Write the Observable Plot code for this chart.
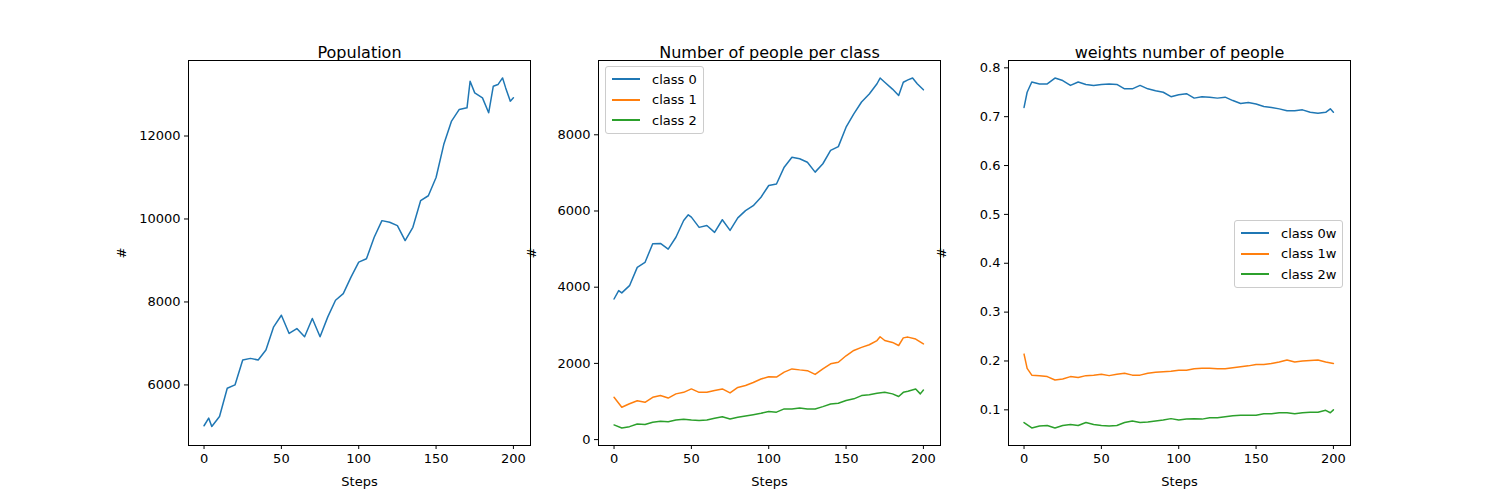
<!DOCTYPE html>
<html>
<head>
<meta charset="utf-8">
<script src="https://cdn.jsdelivr.net/npm/d3@7"></script>
<script src="https://cdn.jsdelivr.net/npm/@observablehq/plot@0.6"></script>
<style>
  body { margin: 0; background: #fff; font-family: "DejaVu Sans", sans-serif; }
  #fig { position: relative; width: 1500px; height: 500px; }
  .panel { position: absolute; }
  .legend { position: absolute; background: rgba(255,255,255,0.8); border: 1px solid #ccc; border-radius: 3px;
            font-size: 13px; padding: 2px 6px; }
  .legend div { display: flex; align-items: center; height: 20.5px; }
  .legend span.sw { display: inline-block; width: 28px; height: 2px; margin-right: 12px; }
</style>
</head>
<body>
<div id="fig"></div>
<script>
// Data: [step, value]
var population = [[0,5016],[3,5200],[5,5000],[10,5240],[15,5920],[20,6000],[25,6600],[30,6640],[35,6600],[40,6840],
  [45,7400],[50,7680],[55,7240],[60,7360],[65,7160],[70,7600],[75,7160],[80,7640],[85,8040],[90,8200],[95,8600],
  [100,8960],[105,9040],[110,9560],[115,9960],[120,9920],[125,9840],[130,9480],[135,9800],[140,10440],[145,10560],
  [150,11000],[155,11800],[160,12360],[165,12640],[170,12680],[172,13320],[175,13040],[180,12920],[184,12560],
  [187,13200],[190,13240],[193,13400],[195,13160],[198,12840],[200,12920]];

var class0 = [[0,3690],[3,3910],[5,3850],[10,4040],[15,4520],[20,4650],[25,5140],[30,5150],[35,5000],[40,5310],
  [45,5750],[48,5900],[50,5840],[55,5570],[60,5620],[65,5440],[70,5770],[75,5490],[80,5820],[85,6010],[90,6140],
  [95,6360],[100,6670],[105,6710],[110,7150],[115,7410],[120,7370],[125,7280],[130,7020],[135,7240],[140,7590],
  [145,7690],[150,8200],[155,8550],[160,8860],[165,9070],[170,9340],[172,9490],[175,9380],[180,9200],[184,9030],
  [187,9380],[190,9440],[193,9490],[196,9340],[200,9180]];
var class1 = [[0,1110],[5,850],[10,940],[15,1020],[20,980],[25,1110],[30,1155],[35,1090],[40,1200],[45,1240],
  [50,1330],[55,1240],[60,1240],[65,1290],[70,1330],[75,1225],[80,1370],[85,1420],[90,1500],[95,1590],[100,1650],
  [105,1640],[110,1770],[115,1855],[120,1830],[125,1810],[130,1710],[135,1855],[140,1990],[145,2030],[150,2200],
  [155,2340],[160,2420],[165,2490],[170,2600],[172,2700],[175,2600],[180,2550],[184,2470],[187,2670],[190,2690],
  [195,2640],[200,2510]];
var class2 = [[0,385],[5,305],[10,340],[15,410],[20,395],[25,455],[30,480],[35,470],[40,515],[45,535],[50,515],
  [55,500],[60,515],[65,560],[70,600],[75,540],[80,585],[85,620],[90,655],[95,690],[100,735],[105,720],[110,805],
  [115,805],[120,830],[125,805],[130,805],[135,865],[140,935],[145,955],[150,1025],[155,1070],[160,1155],[165,1180],
  [170,1215],[175,1240],[180,1200],[184,1130],[187,1240],[190,1270],[195,1330],[198,1200],[200,1300]];

var class0w = [[0,0.719],[2,0.75],[5,0.771],[10,0.767],[15,0.767],[20,0.779],[25,0.774],[30,0.764],[35,0.771],
  [40,0.766],[45,0.764],[50,0.766],[55,0.767],[60,0.766],[65,0.757],[70,0.757],[75,0.764],[80,0.757],[85,0.753],
  [90,0.75],[95,0.741],[100,0.745],[105,0.747],[110,0.738],[115,0.741],[120,0.74],[125,0.738],[130,0.74],[135,0.733],
  [140,0.727],[145,0.729],[150,0.726],[155,0.721],[160,0.719],[165,0.716],[170,0.712],[175,0.712],[180,0.714],
  [185,0.709],[190,0.707],[195,0.709],[198,0.716],[200,0.709]];
var class1w = [[0,0.214],[2,0.185],[5,0.171],[10,0.17],[15,0.168],[20,0.161],[25,0.163],[30,0.168],[35,0.166],
  [40,0.17],[45,0.171],[50,0.173],[55,0.17],[60,0.173],[65,0.175],[70,0.171],[75,0.171],[80,0.175],[85,0.177],
  [90,0.178],[95,0.179],[100,0.181],[105,0.181],[110,0.184],[115,0.185],[120,0.185],[125,0.184],[130,0.184],
  [135,0.186],[140,0.188],[145,0.19],[150,0.193],[155,0.193],[160,0.195],[165,0.198],[170,0.202],[175,0.198],
  [180,0.2],[185,0.201],[190,0.202],[195,0.198],[200,0.195]];
var class2w = [[0,0.074],[5,0.063],[10,0.067],[15,0.068],[20,0.063],[25,0.068],[30,0.07],[35,0.068],[40,0.074],
  [45,0.07],[50,0.068],[55,0.067],[60,0.068],[65,0.074],[70,0.077],[75,0.074],[80,0.075],[85,0.077],[90,0.079],
  [95,0.082],[100,0.079],[105,0.081],[110,0.082],[115,0.081],[120,0.084],[125,0.084],[130,0.086],[135,0.088],
  [140,0.089],[145,0.089],[150,0.089],[155,0.092],[160,0.092],[165,0.094],[170,0.094],[175,0.092],[180,0.094],
  [185,0.095],[190,0.095],[195,0.099],[198,0.094],[200,0.1]];

var colors = ["#1f77b4", "#ff7f0e", "#2ca02c"];
var fig = document.getElementById("fig");

// frame box: left, top, width 342, height 385
function makePanel(left, title, series, yDomain, yTicks, yFormat) {
  var mL = 80, mT = 40, mR = 10, mB = 50;
  var marks = [Plot.frame({stroke: "black"})];
  series.forEach(function(s, i) {
    marks.push(Plot.line(s, {x: "0", y: "1", stroke: colors[i], strokeWidth: 1.5}));
  });
  marks.push(Plot.text([title], {frameAnchor: "top", dy: -14, fontSize: 16, fill: "black"}));
  var plot = Plot.plot({
    width: 342 + mL + mR, height: 385 + mT + mB,
    marginLeft: mL, marginTop: mT, marginRight: mR, marginBottom: mB,
    style: {fontFamily: "DejaVu Sans", fontSize: "13px", color: "black", overflow: "visible"},
    x: {domain: [-10.05, 211.05], ticks: [0, 50, 100, 150, 200], tickSize: 4, tickPadding: 4, label: "Steps",
        labelAnchor: "center", labelArrow: "none", labelOffset: 40},
    y: {domain: yDomain, ticks: yTicks, tickFormat: yFormat, tickSize: 4, tickPadding: 4, label: "#",
        labelAnchor: "center", labelArrow: "none", labelOffset: 72},
    marks: marks
  });
  plot.classList.add("panel");
  plot.style.left = (left - mL) + "px";
  plot.style.top = (60 - mT) + "px";
  fig.appendChild(plot);
}

function makeLegend(left, top, labels) {
  var box = document.createElement("div");
  box.className = "legend";
  box.style.left = left + "px";
  box.style.top = top + "px";
  labels.forEach(function(l, i) {
    var row = document.createElement("div");
    row.innerHTML = '<span class="sw" style="background:' + colors[i] + '"></span>' + l;
    box.appendChild(row);
  });
  fig.appendChild(box);
}

makePanel(188, "Population", [population], [4540, 13820], [6000, 8000, 10000, 12000], d3.format("d"));
makePanel(598, "Number of people per class", [class0, class1, class2], [-155, 9950], [0, 2000, 4000, 6000, 8000], d3.format("d"));
makePanel(1008, "weights number of people", [class0w, class1w, class2w], [0.027, 0.815],
  [0.1, 0.2, 0.3, 0.4, 0.5, 0.6, 0.7, 0.8], d3.format(".1f"));

makeLegend(605, 66, ["class 0", "class 1", "class 2"]);
makeLegend(1234, 220, ["class 0w", "class 1w", "class 2w"]);
</script>
</body>
</html>
